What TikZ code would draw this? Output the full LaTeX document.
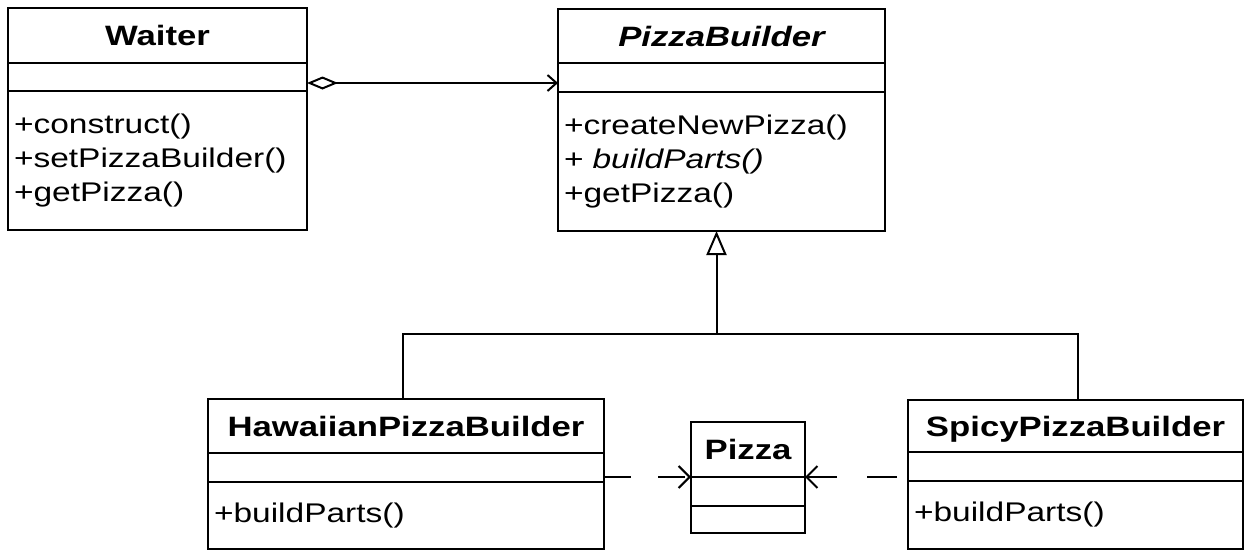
\documentclass[tikz,border=0pt]{standalone}
\usepackage{fontspec}
\setmainfont[FakeStretch=1.24]{Liberation Sans}
\usetikzlibrary{%
  arrows.meta,%
  positioning%
}
\tikzset{>=latex}
\tikzset{
  umlpart/.style={draw, line width=2pt, inner xsep=6pt, inner ysep=0pt, outer sep=0pt},
  umlname/.style={umlpart, font=\fontsize{28}{34}\selectfont\bfseries, align=center,
    text height=20pt, text depth=0pt},
  umlops/.style={umlpart, font=\fontsize{27}{34}\selectfont, align=left},
  umlline/.style={line width=2pt},
  depend/.style={umlline, -{Straight Barb[length=11pt,width=22pt]}}
}

\begin{document}
\begin{tikzpicture}[x=1pt,y=-1pt]
    \useasboundingbox (0,0) rectangle (1246,552);
    \node[umlname, text width=287pt, minimum height=55pt, anchor=north west] (waiter)
    at (8,8) {Waiter};
    \node[umlpart, text width=287pt, minimum height=28pt, below=0pt of waiter] (waiter-attr) {};
    \node[umlops, text width=287pt, minimum height=139pt, below=0pt of waiter-attr]
    (waiter-ops) {+construct()\\+setPizzaBuilder()\\+getPizza()};

    \node[umlname, text width=315pt, minimum height=54pt, anchor=north west] (builder)
    at (558,9) {\itshape PizzaBuilder};
    \node[umlpart, text width=315pt, minimum height=29pt, below=0pt of builder] (builder-attr) {};
    \node[umlops, text width=315pt, minimum height=139pt, below=0pt of builder-attr]
    (builder-ops) {+createNewPizza()\\+ \textit{buildParts()}\\+getPizza()};

    \node[umlname, text width=384pt, minimum height=54pt, anchor=north west] (hawaii)
    at (208,399) {HawaiianPizzaBuilder};
    \node[umlpart, text width=384pt, minimum height=29pt, below=0pt of hawaii] (hawaii-attr) {};
    \node[umlops, text width=384pt, minimum height=67pt, below=0pt of hawaii-attr]
    (hawaii-ops) {+buildParts()};

    \node[umlname, text width=102pt, minimum height=55pt, anchor=north west] (pizza)
    at (691,422) {Pizza};
    \node[umlpart, text width=102pt, minimum height=29pt, below=0pt of pizza] (pizza-attr) {};
    \node[umlpart, text width=102pt, minimum height=27pt, below=0pt of pizza-attr] (pizza-ops) {};

    \node[umlname, text width=323pt, minimum height=52pt, anchor=north west] (spicy)
    at (908,400) {SpicyPizzaBuilder};
    \node[umlpart, text width=323pt, minimum height=29pt, below=0pt of spicy] (spicy-attr) {};
    \node[umlops, text width=323pt, minimum height=68pt, below=0pt of spicy-attr]
    (spicy-ops) {+buildParts()};

    \draw[umlline, {Diamond[open,length=31pt,width=13pt]}-{Straight Barb[length=9pt,width=16pt]}]
    ([yshift=-6pt]waiter-attr.east) coordinate (agg) -- (builder-attr.west |- agg);

    \coordinate (top) at ([xshift=-5pt]builder-ops.south);
    \coordinate (fork) at (top |- 0,334);
    \draw[umlline] ([xshift=-3pt]hawaii.north) |- (fork) -| ([xshift=2pt]spicy.north);
    \draw[umlline, -{Triangle[open,length=24pt,width=20pt]}] (fork) -- (top);

    \draw[depend, dash pattern=on 27pt off 27pt]
    (hawaii-attr.east |- pizza.south west) -- (pizza.south west);
    \draw[depend, dash pattern=on 30pt off 30pt, dash phase=49pt]
    (spicy-attr.west |- pizza.south east) -- (pizza.south east);
  \end{tikzpicture}
\end{document}
